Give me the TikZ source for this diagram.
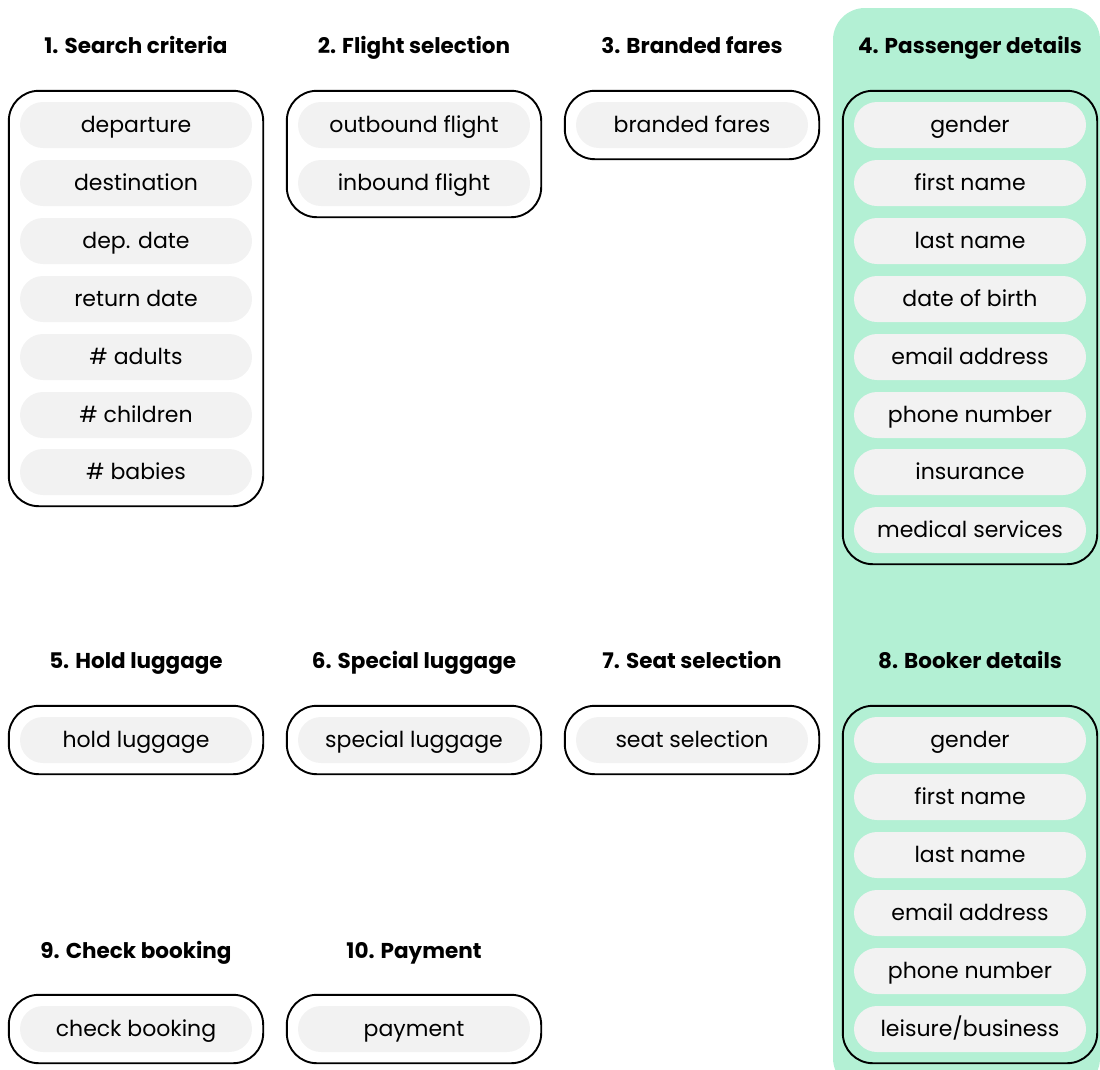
\documentclass[tikz,border=0pt]{standalone}
\usepackage{fontspec}
\setmainfont{Poppins}
\usetikzlibrary{positioning}
\usetikzlibrary{fit}
\definecolor{mint}{HTML}{B3F0D4}
\definecolor{pillgray}{HTML}{F2F2F2}
\tikzset{x=1pt, y=-1pt,
    every node/.style={
        font=\fontsize{22}{24}\selectfont,
        text height=14pt,
        text depth=0pt},
    title/.style={
        font=\bfseries\fontsize{21.5}{24}\selectfont,
        text height=15pt},
    pill/.style={
        fill=pillgray,
        minimum width=232pt,
        minimum height=46pt,
        rounded corners=23pt},
    group/.style={
        draw,
        line width=1.9pt,
        rounded corners=30pt,
        inner sep=11pt}}

\begin{document}
\begin{tikzpicture}
        \useasboundingbox (0,0) rectangle (1100,1069);
        \clip (0,0) rectangle (1100,1069);
        \fill[mint, rounded corners=32pt] (833,8) rectangle (1100,1090);

        % first row of steps
        \node[title] (t1) at (136,46) {1. Search criteria};
        \node[title] (t2) at (414,46) {2. Flight selection};
        \node[title] (t3) at (692,46) {3. Branded fares};
        \node[title] (t4) at (970,46) {4. Passenger details};

        \node[pill] (s1) at (136,125) {departure};
        \node[pill] (s2) at (136,183) {destination};
        \node[pill] (s3) at (136,241) {dep. date};
        \node[pill] (s4) at (136,299) {return date};
        \node[pill] (s5) at (136,357) {\# adults};
        \node[pill] (s6) at (136,415) {\# children};
        \node[pill] (s7) at (136,472) {\# babies};
        \node[group, fit=(s1)(s7)] (g1) {};

        \node[pill] (f1) at (414,125) {outbound flight};
        \node[pill] (f2) at (414,183) {inbound flight};
        \node[group, fit=(f1)(f2)] (g2) {};

        \node[pill] (b1) at (692,125) {branded fares};
        \node[group, fit=(b1)] (g3) {};

        \node[pill] (p1) at (970,125) {gender};
        \node[pill] (p2) at (970,183) {first name};
        \node[pill] (p3) at (970,241) {last name};
        \node[pill] (p4) at (970,299) {date of birth};
        \node[pill] (p5) at (970,357) {email address};
        \node[pill] (p6) at (970,415) {phone number};
        \node[pill] (p7) at (970,472) {insurance};
        \node[pill] (p8) at (970,530) {medical services};
        \node[group, fit=(p1)(p8)] (g4) {};

        % second row of steps
        \node[title] (t5) at (136,661) {5. Hold luggage};
        \node[title] (t6) at (414,661) {6. Special luggage};
        \node[title] (t7) at (692,661) {7. Seat selection};
        \node[title] (t8) at (970,661) {8. Booker details};

        \node[pill] (h1) at (136,740) {hold luggage};
        \node[group, fit=(h1)] (g5) {};

        \node[pill] (l1) at (414,740) {special luggage};
        \node[group, fit=(l1)] (g6) {};

        \node[pill] (e1) at (692,740) {seat selection};
        \node[group, fit=(e1)] (g7) {};

        \node[pill] (k1) at (970,740) {gender};
        \node[pill] (k2) at (970,797) {first name};
        \node[pill] (k3) at (970,855) {last name};
        \node[pill] (k4) at (970,913) {email address};
        \node[pill] (k5) at (970,971) {phone number};
        \node[pill] (k6) at (970,1029) {leisure/business};
        \node[group, fit=(k1)(k6)] (g8) {};

        % third row of steps
        \node[title] (t9) at (136,951) {9. Check booking};
        \node[title] (t10) at (414,951) {10. Payment};

        \node[pill] (c1) at (136,1029) {check booking};
        \node[group, fit=(c1)] (g9) {};

        \node[pill] (m1) at (414,1029) {payment};
        \node[group, fit=(m1)] (g10) {};
    \end{tikzpicture}
\end{document}
